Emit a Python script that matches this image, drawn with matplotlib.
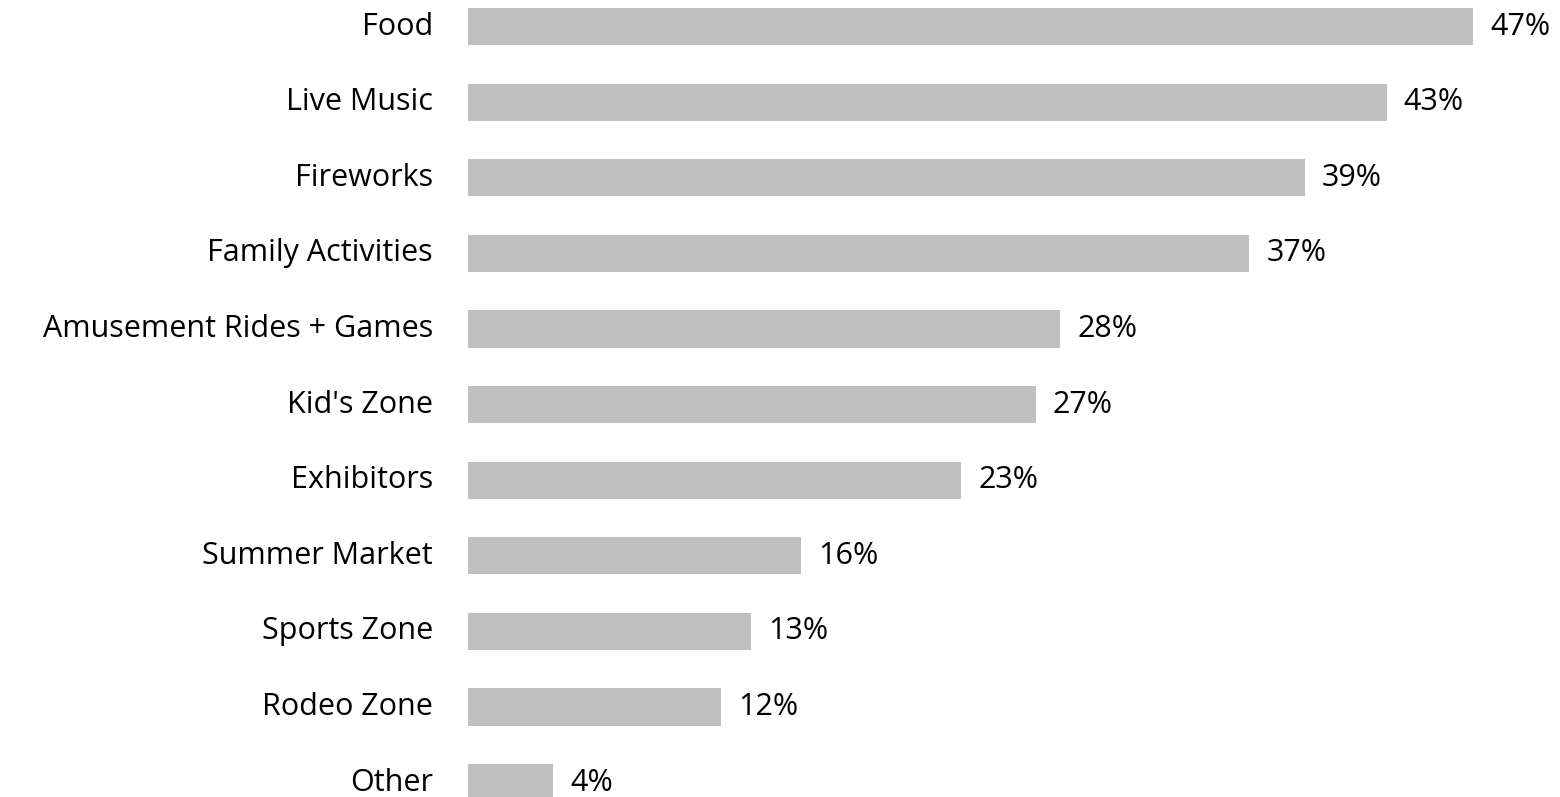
import matplotlib
matplotlib.use("Agg")
import matplotlib.pyplot as plt

categories = ["Food", "Live Music", "Fireworks", "Family Activities",
              "Amusement Rides + Games", "Kid's Zone", "Exhibitors",
              "Summer Market", "Sports Zone", "Rodeo Zone", "Other"]
values = [47.0, 42.95, 39.14, 36.53, 27.68, 26.55, 23.06, 15.58, 13.22, 11.84, 3.99]
value_labels = ["47%", "43%", "39%", "37%", "28%", "27%", "23%",
                "16%", "13%", "12%", "4%"]

W, H = 1560, 797
fig = plt.figure(figsize=(W / 100, H / 100), dpi=100)
left_px = 468
px_per_unit = (1473.3 - 468) / 47.0
ax = fig.add_axes([left_px / W, 0, 1 - left_px / W, 1])
ax.set_xlim(0, (W - left_px) / px_per_unit)
spacing = 75.6
top_c = 26.6
ax.set_ylim((H - top_c) / spacing, -top_c / spacing)

font = "Open Sans"
fs = 22
ypos = list(range(len(categories)))
ax.barh(ypos, values, height=0.49, color="#BFBFBF", edgecolor="none")
for y, v, lab in zip(ypos, values, value_labels):
    ax.text(v + 17 / px_per_unit, y, lab, va="center", ha="left",
            fontsize=fs, family=font, color="#000000")
for y, c in zip(ypos, categories):
    ax.text(-35 / px_per_unit, y, c, va="center", ha="right",
            fontsize=fs, family=font, color="#000000", clip_on=False)

ax.axis("off")
fig.savefig("out.png", dpi=100)
